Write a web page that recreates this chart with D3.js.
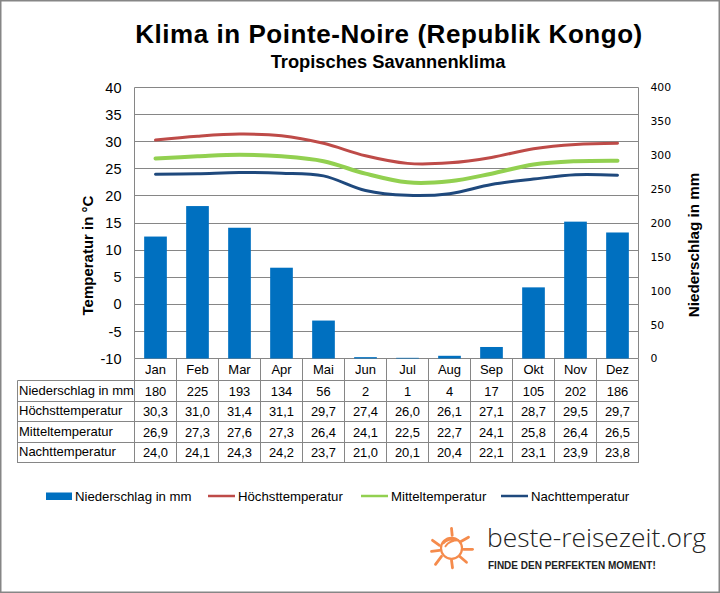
<!DOCTYPE html>
<html>
<head>
<meta charset="utf-8">
<script src="https://cdn.jsdelivr.net/npm/d3@7"></script>
<style>
  html, body { margin: 0; padding: 0; background: #fff; }
  svg { display: block; }
  text { font-family: "Liberation Sans", Arial, sans-serif; fill: #000; }
</style>
</head>
<body>
<svg id="chart" width="720" height="593"></svg>
<script>
// chart values
var months = ["Jan", "Feb", "Mar", "Apr", "Mai", "Jun", "Jul", "Aug", "Sep", "Okt", "Nov", "Dez"];
var rain = [180, 225, 193, 134, 56, 2, 1, 4, 17, 105, 202, 186];
var tempHigh = [30.3, 31.0, 31.4, 31.1, 29.7, 27.4, 26.0, 26.1, 27.1, 28.7, 29.5, 29.7];
var tempMean = [26.9, 27.3, 27.6, 27.3, 26.4, 24.1, 22.5, 22.7, 24.1, 25.8, 26.4, 26.5];
var tempNight = [24.0, 24.1, 24.3, 24.2, 23.7, 21.0, 20.1, 20.4, 22.1, 23.1, 23.9, 23.8];
var tempTicks = [-10, -5, 0, 5, 10, 15, 20, 25, 30, 35, 40];
var rainTicks = [0, 50, 100, 150, 200, 250, 300, 350, 400];

var gray = "#868686";
var svg = d3.select("#chart");

// outer frame
svg.append("rect").attr("x", 0.5).attr("y", 0.5).attr("width", 719).attr("height", 592)
  .attr("fill", "#fff").attr("stroke", gray).attr("stroke-width", 2);

// titles
svg.append("text").attr("x", 389).attr("y", 43).attr("text-anchor", "middle")
  .style("font-size", "26px").style("font-weight", "bold").style("letter-spacing", "0.55px")
  .text("Klima in Pointe-Noire (Republik Kongo)");
svg.append("text").attr("x", 388).attr("y", 68).attr("text-anchor", "middle")
  .style("font-size", "18.3px").style("font-weight", "bold")
  .text("Tropisches Savannenklima");

var plotLeft = 134.5, plotRight = 638.5, plotTop = 87.5, plotBottom = 358.5;

var x = d3.scaleBand().domain(months).range([plotLeft, plotRight]).paddingInner(0.46).paddingOuter(0.23);
var xLine = d3.scalePoint().domain(months).range([plotLeft, plotRight]).padding(0.5);
var yTemp = d3.scaleLinear().domain([-10, 40]).range([plotBottom, plotTop]);
var yRain = d3.scaleLinear().domain([0, 400]).range([plotBottom, plotTop]);

// gridlines
svg.append("g").selectAll("line").data(tempTicks).join("line")
  .attr("x1", plotLeft).attr("x2", plotRight)
  .attr("y1", function(d) { return Math.floor(yTemp(d)) + 0.5; })
  .attr("y2", function(d) { return Math.floor(yTemp(d)) + 0.5; })
  .attr("stroke", gray);

svg.append("line").attr("x1", plotLeft).attr("x2", plotLeft).attr("y1", plotTop).attr("y2", plotBottom).attr("stroke", gray);
svg.append("line").attr("x1", plotRight).attr("x2", plotRight).attr("y1", plotTop).attr("y2", plotBottom).attr("stroke", gray);

// rain bars
svg.append("g").selectAll("rect").data(rain).join("rect")
  .attr("x", function(d, i) { return x(months[i]); })
  .attr("width", x.bandwidth())
  .attr("y", function(d) { return yRain(d); })
  .attr("height", function(d) { return plotBottom - yRain(d); })
  .attr("fill", "#0070c0");

// temperature lines
var line = d3.line()
  .x(function(d, i) { return xLine(months[i]); })
  .y(function(d) { return yTemp(d); })
  .curve(d3.curveCatmullRom.alpha(0.5));

var series = [
  { values: tempHigh, color: "#be4b48", width: 3 },
  { values: tempMean, color: "#92d050", width: 4 },
  { values: tempNight, color: "#1f497d", width: 3 }
];
svg.append("g").selectAll("path").data(series).join("path")
  .attr("d", function(d) { return line(d.values); })
  .attr("fill", "none")
  .attr("stroke", function(d) { return d.color; })
  .attr("stroke-width", function(d) { return d.width; })
  .attr("stroke-linecap", "round");

// left axis, plain hyphen for the negative ticks
var axisLeft = d3.axisLeft(yTemp).tickValues(tempTicks).tickSize(0).tickPadding(13)
  .tickFormat(function(d) { return String(d); });
var gLeft = svg.append("g").attr("transform", "translate(" + plotLeft + ",0)").call(axisLeft);
gLeft.select(".domain").remove();
gLeft.selectAll("text").style("font-size", "14.5px");

// right axis
var axisRight = d3.axisRight(yRain).tickValues(rainTicks).tickSize(0).tickPadding(12);
var gRight = svg.append("g").attr("transform", "translate(" + plotRight + ",0)").call(axisRight);
gRight.select(".domain").remove();
gRight.selectAll("text").style("font-size", "10.8px").style("font-family", "'DejaVu Sans', sans-serif");

// axis titles
svg.append("text").attr("transform", "translate(93,255.5) rotate(-90)").attr("text-anchor", "middle")
  .style("font-size", "15px").style("font-weight", "bold").text("Temperatur in °C");
svg.append("text").attr("transform", "translate(698.5,245) rotate(-90)").attr("text-anchor", "middle")
  .style("font-size", "15.2px").style("font-weight", "bold").text("Niederschlag in mm");

// data table
var tableRows = [
  { label: "Niederschlag in mm", values: rain.map(String) },
  { label: "Höchsttemperatur", values: tempHigh.map(fmt) },
  { label: "Mitteltemperatur", values: tempMean.map(fmt) },
  { label: "Nachttemperatur", values: tempNight.map(fmt) }
];
function fmt(v) { return v.toFixed(1).replace(".", ","); }

var tableLeft = 17.5, rowTop = 380.5, rowH = 20.5;
var rowY = d3.scaleLinear().domain([0, 4]).range([rowTop, rowTop + rowH * 4]);
var tableGrid = svg.append("g").attr("stroke", gray);
d3.range(5).forEach(function(i) {
  var yy = Math.floor(rowY(i)) + 0.5;
  tableGrid.append("line").attr("x1", tableLeft).attr("x2", plotRight).attr("y1", yy).attr("y2", yy);
});
tableGrid.append("line").attr("x1", tableLeft).attr("x2", tableLeft)
  .attr("y1", rowTop).attr("y2", Math.floor(rowY(4)) + 1);
d3.range(13).forEach(function(i) {
  var xx = plotLeft + i * 42;
  tableGrid.append("line").attr("x1", xx).attr("x2", xx).attr("y1", plotBottom).attr("y2", Math.floor(rowY(4)) + 1);
});

svg.append("g").selectAll("text").data(months).join("text")
  .attr("x", function(d) { return xLine(d); }).attr("y", 374).attr("text-anchor", "middle")
  .style("font-size", "13px").text(function(d) { return d; });

tableRows.forEach(function(row, r) {
  var yy = rowY(r) + 15;
  svg.append("text").attr("x", tableLeft + 1.5).attr("y", yy - 1)
    .style("font-size", "13px").text(row.label);
  svg.append("g").selectAll("text").data(row.values).join("text")
    .attr("x", function(d, i) { return xLine(months[i]); }).attr("y", yy)
    .attr("text-anchor", "middle").style("font-size", "12.9px")
    .text(function(d) { return d; });
});

// legend
var legendY = 496;
svg.append("rect").attr("x", 46).attr("y", legendY - 3.5).attr("width", 26).attr("height", 7.5).attr("fill", "#0070c0");
svg.append("text").attr("x", 75).attr("y", legendY + 5).style("font-size", "13.2px").text("Niederschlag in mm");
var legendLines = [
  { x: 208, label: "Höchsttemperatur", color: "#be4b48" },
  { x: 361, label: "Mitteltemperatur", color: "#92d050" },
  { x: 501, label: "Nachttemperatur", color: "#1f497d" }
];
legendLines.forEach(function(d) {
  svg.append("line").attr("x1", d.x).attr("x2", d.x + 27).attr("y1", legendY).attr("y2", legendY)
    .attr("stroke", d.color).attr("stroke-width", 2.5);
  svg.append("text").attr("x", d.x + 30).attr("y", legendY + 5).style("font-size", "13.2px").text(d.label);
});

// logo: sun with rays
var sun = svg.append("g").attr("transform", "translate(451.5,548.3)")
  .attr("fill", "none").attr("stroke", "#f58b4c").attr("stroke-width", 2.8).attr("stroke-linecap", "round");
sun.append("circle").attr("r", 10.5).attr("stroke-width", 2.2);
sun.append("path").attr("d", "M-8,-5 Q-2,-11 7,-8 Q-2,-8 -6,-2").attr("stroke-width", 2);
var rays = [[0, -20, 0.7, -13], [9, -6.5, 17, -11], [12, 1, 21, 1], [8, 8, 15, 14], [0, 12, 1, 19.5],
            [-10, 8, -16, 16], [-20, 3, -12, 2], [-19, -8, -12, -3]];
sun.selectAll("line").data(rays).join("line")
  .attr("x1", function(d) { return d[0]; }).attr("y1", function(d) { return d[1]; })
  .attr("x2", function(d) { return d[2]; }).attr("y2", function(d) { return d[3]; });

svg.append("text").attr("x", 487).attr("y", 547)
  .style("font-family", "'Open Sans', sans-serif").style("font-weight", "300").style("font-size", "26.4px").style("fill", "#222")
  .text("beste-reisezeit.org");
svg.append("text").attr("x", 488).attr("y", 569)
  .style("font-size", "10px").style("font-weight", "bold").style("fill", "#222")
  .text("FINDE DEN PERFEKTEN MOMENT!");
</script>
</body>
</html>
